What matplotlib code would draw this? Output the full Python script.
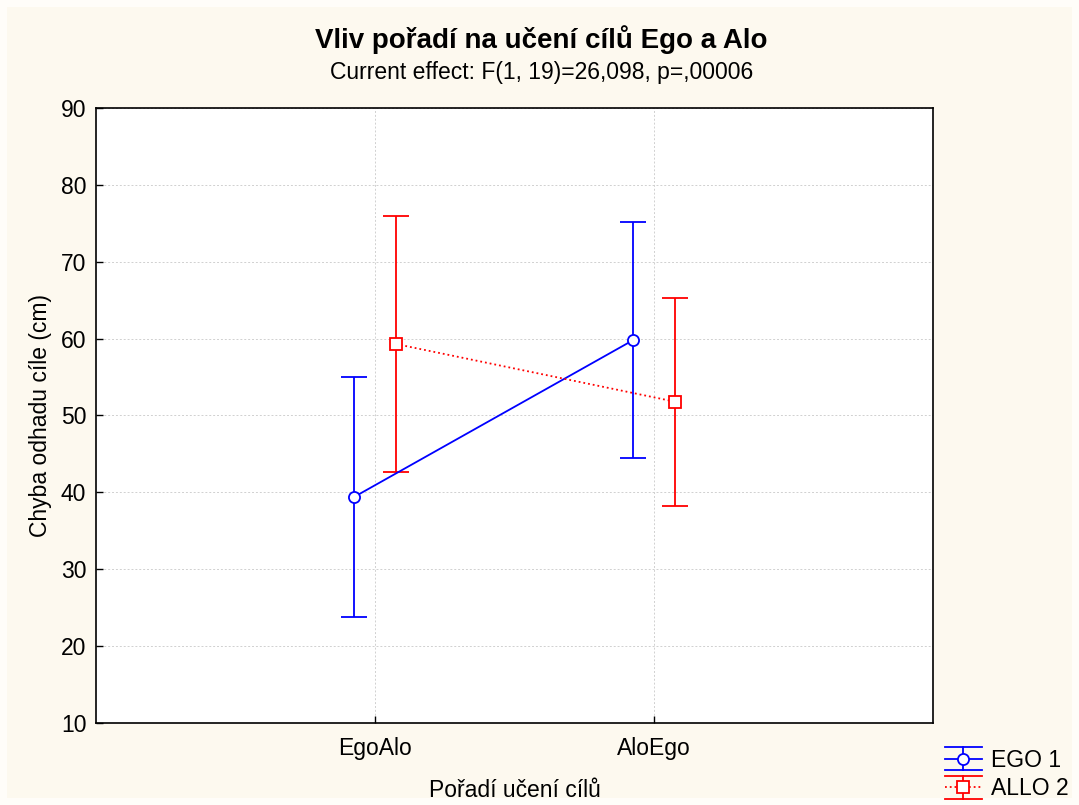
import matplotlib.pyplot as plt
from matplotlib.patches import Rectangle
from matplotlib.lines import Line2D
from matplotlib.legend_handler import HandlerBase

plt.rcParams['font.family'] = ['Liberation Sans', 'DejaVu Sans']

# group means and confidence limits (Chyba odhadu cíle, cm)
categories = ["EgoAlo", "AloEgo"]
ego_mean = [39.4, 59.8]
ego_low = [23.8, 44.5]
ego_high = [55.0, 75.2]
allo_mean = [59.3, 51.8]
allo_low = [42.7, 38.2]
allo_high = [76.0, 65.3]

bg = "#fdf9ef"
fig = plt.figure(figsize=(10.79, 8.05), dpi=100, facecolor="#fffdf9")
fig.patches.append(Rectangle((7 / 1079, 7 / 805), 1 - 14 / 1079, 1 - 14 / 805,
                             transform=fig.transFigure, facecolor=bg,
                             edgecolor="none", zorder=-10))
ax = fig.add_axes([96 / 1079, 1 - 723 / 805, (933 - 96) / 1079, (723 - 108) / 805])

off = 0.075
x = list(range(len(categories)))
xe = [i - off for i in x]
xa = [i + off for i in x]

def bars(mean, low, high):
    return [[m - l for m, l in zip(mean, low)], [h - m for m, h in zip(mean, high)]]

e1 = ax.errorbar(xe, ego_mean, yerr=bars(ego_mean, ego_low, ego_high),
                 color="#0000ff", lw=1.3, elinewidth=1.3, capsize=9.5, capthick=1.3,
                 marker="o", ms=8, mfc="white", mec="#0000ff", mew=1.3,
                 label="EGO 1", zorder=3)
e2 = ax.errorbar(xa, allo_mean, yerr=bars(allo_mean, allo_low, allo_high),
                 color="#ff0000", lw=1.3, ls=":", elinewidth=1.3, capsize=9.5, capthick=1.3,
                 marker="s", ms=8, mfc="white", mec="#ff0000", mew=1.3,
                 label="ALLO 2", zorder=3)
e2[2][0].set_linestyle("-")

ax.set_xlim(-1, 2)
ax.set_ylim(10, 90)
ax.set_xticks(x)
ax.set_xticklabels(categories)
ax.set_yticks(range(10, 91, 10))
ax.tick_params(direction="in", labelsize=16.5, length=5, width=1)
ax.tick_params(axis="x", pad=10)
ax.tick_params(axis="y", pad=7)
ax.grid(True, ls=(0, (2, 2)), color="#d0d0d0", lw=0.7)
ax.set_axisbelow(True)
for s in ax.spines.values():
    s.set_linewidth(1.2)

ax.set_xlabel("Pořadí učení cílů", fontsize=16.5, labelpad=14)
ax.set_ylabel("Chyba odhadu cíle (cm)", fontsize=16.5, labelpad=6)

fig.text(0.502, 1 - 40 / 805, "Vliv pořadí na učení cílů Ego a Alo",
         ha="center", va="center", fontsize=20, fontweight="bold")
fig.text(0.502, 1 - 73 / 805, "Current effect: F(1, 19)=26,098, p=,00006",
         ha="center", va="center", fontsize=16.5)


class CapHandler(HandlerBase):
    # legend key: full-width line with marker and caps above/below
    def create_artists(self, legend, orig, xd, yd, w, h, fontsize, trans):
        line = orig.lines[0]
        c = line.get_color()
        y0 = h / 2 - yd
        d = 8.5
        arts = [
            Line2D([-xd, w - xd], [y0, y0], color=c, lw=1.3, ls=line.get_linestyle()),
            Line2D([-xd, w - xd], [y0 + d, y0 + d], color=c, lw=1.3),
            Line2D([-xd, w - xd], [y0 - d, y0 - d], color=c, lw=1.3),
            Line2D([w / 2 - xd] * 2, [y0 - d, y0 + d], color=c, lw=1.3),
            Line2D([w / 2 - xd], [y0], marker=line.get_marker(), ms=8, mfc="white",
                   mec=c, mew=1.3, ls="none"),
        ]
        for a in arts:
            a.set_transform(trans)
        return arts


fig.legend(handles=[e1, e2], loc="lower right", bbox_to_anchor=(1 + 2 / 1079, -8 / 805),
           handler_map={type(e1): CapHandler()},
           frameon=False, fontsize=16.5, handlelength=1.6, handletextpad=0.4,
           labelspacing=0.25, borderaxespad=0.15)

fig.savefig("out.png", dpi=100, facecolor=fig.get_facecolor())
